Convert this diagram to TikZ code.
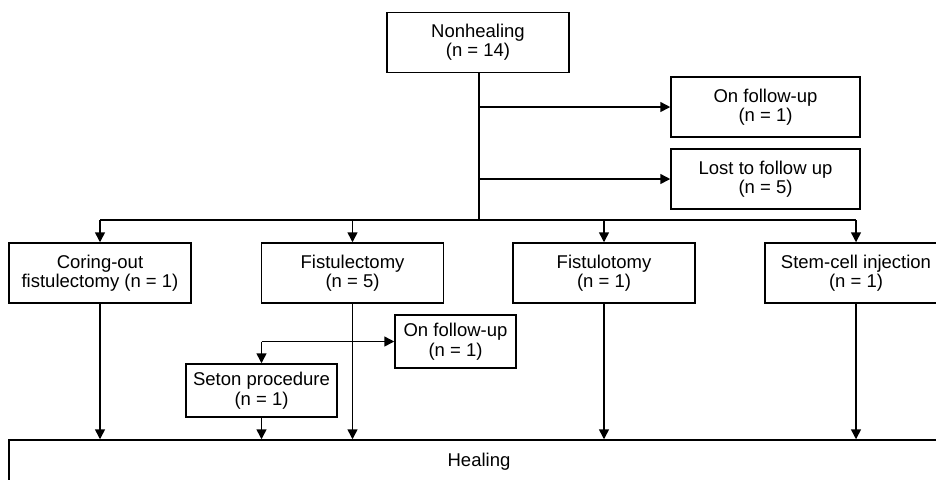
\documentclass[tikz,border=0pt]{standalone}
\usepackage{fontspec}
\setmainfont{Liberation Sans}
\usepackage{tikz}
\usetikzlibrary{positioning,calc,arrows.meta}

\tikzset{
	box/.style={draw, line width=0.75pt, align=center, inner sep=0pt, font=\fontsize{9.25}{9.7}\selectfont},
	wbox/.style={box, minimum width=91pt, minimum height=30pt},
	sbox/.style={box, minimum height=26.5pt},
	arr/.style={line width=0.75pt, -{Triangle[length=5pt,width=5pt]}},
	ln/.style={line width=0.75pt}
}

\begin{document}
\begin{tikzpicture}[x=0.5pt, y=-0.5pt]
	\clip (0,0) rectangle (936,479);
	% boxes (pixel grid of the original figure)
	\node[wbox] (nonheal) at (478,42.5) {Nonhealing\\(n = 14)};
	\node[wbox, minimum width=94.5pt] (onfu) at (765.5,107) {On follow-up\\(n = 1)};
	\node[wbox, minimum width=94.5pt] (lost) at (765.5,179) {Lost to follow up\\(n = 5)};
	\node[wbox] (coring) at (100,273) {Coring-out\\fistulectomy (n = 1)};
	\node[wbox] (fistulect) at (352.5,273) {Fistulectomy\\(n = 5)};
	\node[wbox] (fistulot) at (604,273) {Fistulotomy\\(n = 1)};
	\node[wbox] (stem) at (856,273) {Stem-cell injection\\(n = 1)};
	\node[sbox, minimum width=60.5pt] (onfutwo) at (455.5,341.5) {On follow-up\\(n = 1)};
	\node[sbox, minimum width=75.5pt] (seton) at (261.5,390.5) {Seton procedure\\(n = 1)};
	\node[box, minimum width=470pt, minimum height=22pt] (heal) at (479,462) {Healing};
	\coordinate (split) at (479,220);

	% top part
	\draw[ln] (nonheal.south -| split) -- (split);
	\draw[arr] (split |- onfu.west) -- (onfu.west);
	\draw[arr] (split |- lost.west) -- (lost.west);
	\draw[ln] (coring.north |- split) -- (stem.north |- split);
	\foreach \b in {coring, fistulect, fistulot, stem}
		\draw[arr] (\b.north |- split) -- (\b.north);

	% seton branch
	\draw[arr] (seton.north |- onfutwo.west) -- (onfutwo.west);
	\draw[arr] (seton.north |- onfutwo.west) -- (seton.north);

	% down to healing
	\foreach \b in {coring, seton, fistulect, fistulot, stem}
		\draw[arr] (\b.south) -- (\b.south |- heal.north);
\end{tikzpicture}
\end{document}
